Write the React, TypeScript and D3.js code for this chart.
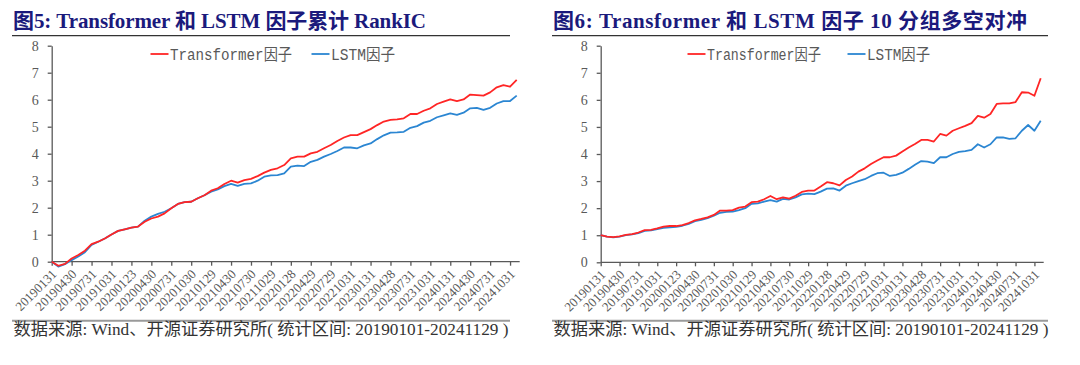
import * as d3 from "d3"
import { useLayoutEffect, useRef } from "react"

const tickLabels = [
  "20190131", "20190430", "20190731", "20191031", "20200123", "20200430",
  "20200731", "20201030", "20210129", "20210430", "20210730", "20211029",
  "20220128", "20220429", "20220729", "20221031", "20230131", "20230428",
  "20230731", "20231031", "20240131", "20240430", "20240731", "20241031",
]

const yTicks = [0, 1, 2, 3, 4, 5, 6, 7, 8]

const seriesNames = ["Transformer因子", "LSTM因子"]

// fig 5: cumulative RankIC, month by month
const rankicTransformer = [
  0, -0.15, -0.08, 0.12, 0.25, 0.41, 0.65, 0.74, 0.86, 1.01, 1.14, 1.2, 1.26, 1.3,
  1.48, 1.6, 1.67, 1.79, 1.98, 2.14, 2.21, 2.22, 2.35, 2.46, 2.63, 2.72, 2.88, 3.0,
  2.93, 3.02, 3.07, 3.17, 3.3, 3.4, 3.46, 3.58, 3.83, 3.89, 3.89, 4.01, 4.07, 4.2,
  4.32, 4.47, 4.6, 4.69, 4.69, 4.8, 4.91, 5.06, 5.19, 5.25, 5.27, 5.31, 5.47, 5.47,
  5.59, 5.68, 5.84, 5.93, 6.01, 5.95, 6.01, 6.19, 6.17, 6.15, 6.27, 6.46, 6.54, 6.48,
  6.73,
]
const rankicLstm = [
  0, -0.18, -0.09, 0.06, 0.19, 0.35, 0.62, 0.74, 0.86, 1.01, 1.14, 1.2, 1.26, 1.3,
  1.52, 1.67, 1.77, 1.85, 1.98, 2.14, 2.21, 2.22, 2.35, 2.46, 2.59, 2.68, 2.8, 2.88,
  2.81, 2.88, 2.9, 3.0, 3.15, 3.2, 3.21, 3.27, 3.52, 3.56, 3.54, 3.7, 3.77, 3.89,
  3.99, 4.1, 4.23, 4.23, 4.2, 4.31, 4.38, 4.54, 4.68, 4.78, 4.79, 4.81, 4.96, 5.02,
  5.15, 5.22, 5.35, 5.42, 5.49, 5.44, 5.52, 5.68, 5.7, 5.62, 5.7, 5.86, 5.95, 5.95,
  6.15,
]

// fig 6: top-minus-bottom decile net value
const hedgeTransformer = [
  1.0, 0.95, 0.93, 0.96, 1.01, 1.04, 1.1, 1.19, 1.2, 1.25, 1.32, 1.34, 1.34, 1.37,
  1.45, 1.55, 1.6, 1.66, 1.75, 1.91, 1.91, 1.93, 2.02, 2.06, 2.22, 2.24, 2.33, 2.45,
  2.33, 2.4, 2.35, 2.46, 2.6, 2.65, 2.65, 2.8, 2.96, 2.92, 2.84, 3.04, 3.17, 3.35,
  3.47, 3.63, 3.76, 3.88, 3.88, 3.94, 4.09, 4.24, 4.37, 4.52, 4.52, 4.46, 4.74, 4.68,
  4.86, 4.95, 5.04, 5.14, 5.41, 5.34, 5.48, 5.85, 5.87, 5.87, 5.92, 6.28, 6.27, 6.15,
  6.8,
]
const hedgeLstm = [
  1.0, 0.95, 0.92, 0.95, 1.0, 1.03, 1.08, 1.16, 1.18, 1.23, 1.27, 1.29, 1.31, 1.35,
  1.42, 1.52, 1.57, 1.63, 1.72, 1.83, 1.86, 1.87, 1.93, 2.0, 2.16, 2.18, 2.24, 2.3,
  2.24, 2.34, 2.32, 2.4, 2.51, 2.54, 2.52, 2.61, 2.72, 2.73, 2.65, 2.83, 2.92, 3.0,
  3.07, 3.19, 3.29, 3.31, 3.19, 3.23, 3.31, 3.45, 3.6, 3.74, 3.72, 3.66, 3.88, 3.88,
  4.0, 4.08, 4.11, 4.15, 4.36, 4.24, 4.36, 4.61, 4.61, 4.56, 4.58, 4.86, 5.07, 4.86,
  5.23,
]

const RED = "#ff2525"
const BLUE = "#2b86d2"
const NAVY = "#1b1a7c"
const GRAY = "#595959"
const SERIF = "'Liberation Serif', 'Noto Sans CJK SC', serif"

interface Panel {
  title: string
  titleW: number
  ruleX0: number
  ruleX1: number
  plotX0: number
  plotX1: number
  zeroY: number
  topY: number
  legendRed: number
  legendBlue: number
  legendRedW: number
  legendBlueW: number
  red: number[]
  blue: number[]
}

const panels: Panel[] = [
  {
    title: "图5:  Transformer 和 LSTM 因子累计 RankIC",
    titleW: 413,
    ruleX0: 12, ruleX1: 510,
    plotX0: 51.7, plotX1: 516.7, zeroY: 261.7, topY: 45.7,
    legendRed: 150.5, legendBlue: 311.5, legendRedW: 122, legendBlueW: 64,
    red: rankicTransformer, blue: rankicLstm,
  },
  {
    title: "图6:  Transformer 和 LSTM 因子 10 分组多空对冲",
    titleW: 474,
    ruleX0: 552, ruleX1: 1048,
    plotX0: 600.7, plotX1: 1040.7, zeroY: 262.3, topY: 45.7,
    legendRed: 687.5, legendBlue: 847.5, legendRedW: 114, legendBlueW: 63,
    red: hedgeTransformer, blue: hedgeLstm,
  },
]

function drawPanel(svg: d3.Selection<SVGSVGElement, unknown, null, undefined>, p: Panel) {
  const n = p.red.length - 1
  const x = d3.scaleLinear().domain([0, n]).range([p.plotX0, p.plotX1])
  const y = d3.scaleLinear().domain([0, 8]).range([p.zeroY, p.topY])

  svg
    .append("text")
    .attr("x", p.ruleX0 + 1)
    .attr("y", 28)
    .attr("font-family", SERIF)
    .attr("font-weight", "bold")
    .attr("font-size", 21)
    .attr("fill", NAVY)
    .attr("textLength", p.titleW)
    .attr("lengthAdjust", "spacing")
    .text(p.title)

  svg
    .append("line")
    .attr("x1", p.ruleX0).attr("x2", p.ruleX1)
    .attr("y1", 35.7).attr("y2", 35.7)
    .attr("stroke", "#333")
    .attr("stroke-width", 1.3)

  // y axis
  const yAxis = svg
    .append("g")
    .attr("transform", `translate(${p.plotX0},0)`)
    .call(d3.axisLeft(y).tickValues(yTicks).tickSize(4).tickSizeOuter(0).tickPadding(9))
  yAxis.select(".domain").attr("stroke", GRAY).attr("stroke-width", 1.3)
  yAxis.selectAll(".tick line").attr("stroke", GRAY).attr("stroke-width", 1.3)
  yAxis
    .selectAll(".tick text")
    .attr("font-family", SERIF)
    .attr("font-size", 14)
    .attr("fill", GRAY)

  // x axis
  const xAxis = svg
    .append("g")
    .attr("transform", `translate(0,${p.zeroY})`)
    .call(
      d3
        .axisBottom(x)
        .tickValues(d3.range(0, n, 3))
        .tickSize(4)
        .tickSizeOuter(0)
        .tickFormat((d) => tickLabels[Math.round((d as number) / 3)]),
    )
  xAxis.select(".domain").remove()
  xAxis.selectAll(".tick line").attr("stroke", GRAY).attr("stroke-width", 1.3)
  xAxis
    .selectAll(".tick text")
    .attr("font-family", SERIF)
    .attr("font-size", 13)
    .attr("fill", GRAY)
    .attr("x", 0)
    .attr("y", 0)
    .attr("dy", "0.35em")
    .attr("text-anchor", "end")
    .attr("transform", "translate(2,10) rotate(-45)")
  xAxis
    .append("line")
    .attr("x1", p.plotX0).attr("x2", p.plotX1 + 3)
    .attr("stroke", GRAY)
    .attr("stroke-width", 1.3)

  const line = d3
    .line<number>()
    .x((_, i) => x(i))
    .y((d) => y(d))

  const series = [
    { values: p.blue, color: BLUE },
    { values: p.red, color: RED },
  ]
  svg
    .selectAll(null)
    .data(series)
    .enter()
    .append("path")
    .attr("d", (s) => line(s.values))
    .attr("fill", "none")
    .attr("stroke", (s) => s.color)
    .attr("stroke-width", 1.8)
    .attr("stroke-linejoin", "round")

  // legend
  const legend = [
    { name: seriesNames[0], color: RED, x: p.legendRed, w: p.legendRedW },
    { name: seriesNames[1], color: BLUE, x: p.legendBlue, w: p.legendBlueW },
  ]
  const items = svg.selectAll(null).data(legend).enter().append("g")
  items
    .append("line")
    .attr("x1", (d) => d.x).attr("x2", (d) => d.x + 18)
    .attr("y1", 54).attr("y2", 54)
    .attr("stroke", (d) => d.color)
    .attr("stroke-width", 1.8)
  items
    .append("text")
    .attr("x", (d) => d.x + 19.5)
    .attr("y", 59.5)
    .attr("font-family", "'Liberation Mono', 'Noto Sans CJK SC', monospace")
    .attr("font-size", 16)
    .attr("fill", GRAY)
    .attr("textLength", (d) => d.w)
    .attr("lengthAdjust", "spacingAndGlyphs")
    .text((d) => d.name)

  // source
  svg
    .append("line")
    .attr("x1", p.ruleX0).attr("x2", p.ruleX1)
    .attr("y1", 320.7).attr("y2", 320.7)
    .attr("stroke", "#9a9a9a")
    .attr("stroke-width", 2)
  svg
    .append("text")
    .attr("x", p.ruleX0 + 1.5)
    .attr("y", 334.5)
    .attr("font-family", SERIF)
    .attr("font-size", 16.5)
    .attr("fill", "#333")
    .attr("textLength", 495)
    .attr("lengthAdjust", "spacingAndGlyphs")
    .text("数据来源: Wind、开源证券研究所( 统计区间: 20190101-20241129 )")
}

export default function App() {
  const ref = useRef<SVGSVGElement>(null)

  useLayoutEffect(() => {
    if (!ref.current) return
    const svg = d3.select(ref.current)
    svg.selectAll("*").remove()
    panels.forEach((p) => drawPanel(svg, p))
    return () => {
      svg.selectAll("*").remove()
    }
  }, [])

  return (
    <svg
      ref={ref}
      width={1080}
      height={365}
      style={{ position: "absolute", left: 0, top: 0, background: "#fff" }}
    />
  )
}
